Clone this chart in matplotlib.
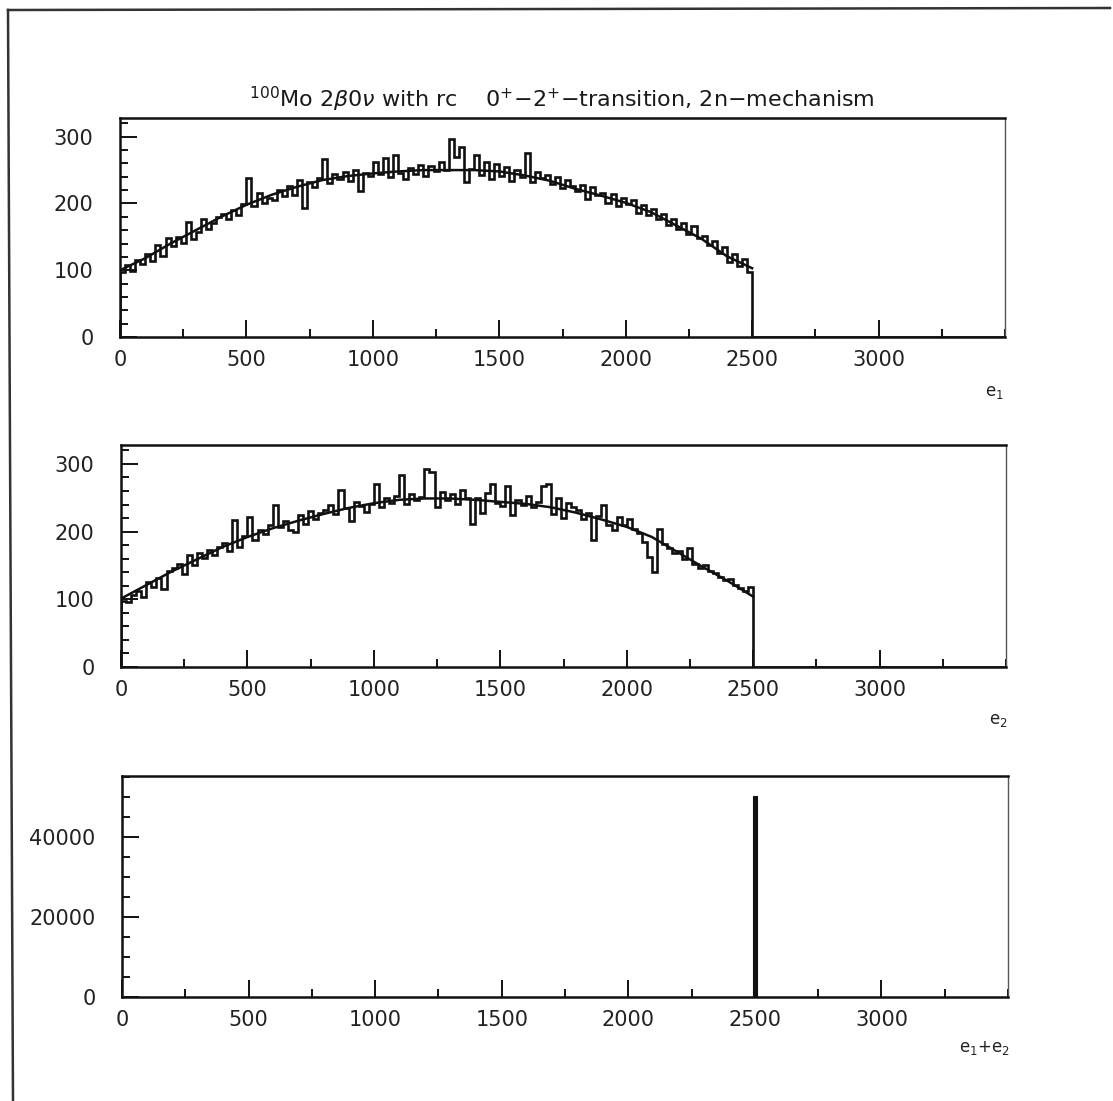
"""Energy spectra of the two electrons and of their sum, 100Mo 2b0v (0+ -> 2+)."""

import matplotlib.pyplot as plt
import numpy as np
from matplotlib.lines import Line2D
from matplotlib.ticker import MultipleLocator

BIN_WIDTH = 20      # keV
E_MAX = 3500        # keV, right edge of every panel

# counts per 20 keV bin, 0 .. 2500 keV
E1_COUNTS = [
    97, 108, 99, 115, 110,
    124, 114, 138, 121, 148,
    136, 150, 141, 172, 147,
    158, 176, 162, 171, 180,
    184, 177, 190, 183, 199,
    238, 196, 215, 201, 208,
    205, 220, 211, 226, 213,
    235, 193, 232, 224, 238,
    266, 230, 244, 236, 247,
    233, 250, 218, 246, 241,
    262, 244, 268, 239, 272,
    245, 236, 253, 244, 257,
    241, 256, 248, 262, 250,
    296, 270, 285, 232, 251,
    272, 243, 262, 236, 259,
    241, 255, 234, 250, 239,
    276, 232, 247, 238, 243,
    229, 240, 223, 235, 226,
    219, 228, 206, 225, 212,
    216, 201, 214, 196, 208,
    199, 205, 186, 197, 183,
    192, 176, 184, 168, 177,
    162, 171, 154, 166, 148,
    152, 138, 144, 126, 135,
    112, 125, 106, 117, 98,
]

E2_COUNTS = [
    98, 96, 106, 112, 104,
    126, 118, 132, 115, 142,
    146, 152, 138, 165, 150,
    168, 161, 173, 165, 178,
    183, 172, 217, 178, 193,
    221, 188, 203, 196, 210,
    239, 207, 216, 203, 199,
    224, 212, 230, 219, 228,
    232, 240, 226, 262, 235,
    216, 244, 238, 229, 241,
    271, 237, 249, 243, 252,
    283, 241, 256, 247, 251,
    293, 288, 236, 258, 247,
    255, 241, 262, 249, 212,
    250, 228, 257, 271, 243,
    238, 268, 224, 247, 240,
    252, 236, 244, 268, 271,
    226, 249, 220, 243, 236,
    232, 219, 228, 187, 223,
    239, 210, 203, 221, 210,
    219, 204, 198, 185, 162,
    140, 204, 181, 176, 168,
    171, 159, 176, 152, 146,
    150, 142, 139, 133, 128,
    130, 121, 117, 112, 118,
]

# fitted shape, sampled every 100 keV
FIT_E = [0, 100, 200, 300, 400, 500, 600, 700, 800, 900, 1000, 1100, 1200,
         1300, 1400, 1500, 1600, 1700, 1800, 1900, 2000, 2100, 2200, 2300,
         2400, 2500]
E1_FIT = [100, 118, 140, 160, 180, 198, 213, 225, 235, 241, 245, 248, 250,
          250, 250, 248, 242, 234, 222, 212, 201, 187, 167, 147, 121, 103]
E2_FIT = [101, 121, 141, 159, 177, 192, 205, 216, 226, 235, 242, 247, 249,
          249, 247, 244, 241, 236, 228, 218, 207, 192, 170, 148, 127, 104]

# e1 + e2: all events in a single bin at Q
SUM_PEAK_E = 2500
SUM_PEAK_COUNTS = 50300

X_TICKS = [0, 500, 1000, 1500, 2000, 2500, 3000]
TITLE = (r"$^{100}$Mo 2$\beta$0$\nu$ with rc    "
         r"0$^{+}$$-$2$^{+}$$-$transition, 2n$-$mechanism")

INK = "#111111"
W, H = 1113, 1101


def box(left, top, right, bottom):
    return [left / W, 1 - bottom / H, (right - left) / W, (bottom - top) / H]


def style_axes(ax, ymax, ymajor, yminor):
    ax.set_xlim(0, E_MAX)
    ax.set_ylim(0, ymax)
    ax.set_xticks(X_TICKS)
    ax.xaxis.set_minor_locator(MultipleLocator(250))
    ax.yaxis.set_major_locator(MultipleLocator(ymajor))
    ax.yaxis.set_minor_locator(MultipleLocator(yminor))
    ax.tick_params(which="both", direction="in", top=False, right=False,
                   color=INK, width=1.4)
    ax.tick_params(which="major", length=12, labelsize=15, labelcolor="#222222")
    ax.tick_params(which="minor", length=6)
    ax.tick_params(axis="x", which="major", pad=9)
    ax.tick_params(axis="y", which="major", pad=19)
    for side in ("left", "bottom", "top"):
        ax.spines[side].set_linewidth(1.8)
        ax.spines[side].set_color(INK)
    ax.spines["right"].set_linewidth(1.0)
    ax.spines["right"].set_color("#555555")


def draw_single(ax, counts, fit):
    edges = np.arange(0, E_MAX + BIN_WIDTH, BIN_WIDTH)
    values = np.zeros(len(edges) - 1)
    values[:len(counts)] = counts
    ax.stairs(values, edges, color=INK, lw=1.9)
    ax.plot(FIT_E, fit, color=INK, lw=1.8)
    style_axes(ax, 328, 100, 20)


def main():
    fig = plt.figure(figsize=(W / 100, H / 100), dpi=100)

    ax1 = fig.add_axes(box(120, 118, 1005, 337))
    draw_single(ax1, E1_COUNTS, E1_FIT)

    ax2 = fig.add_axes(box(121, 445, 1006, 667))
    draw_single(ax2, E2_COUNTS, E2_FIT)

    ax3 = fig.add_axes(box(122, 776, 1008, 997))
    ax3.bar(SUM_PEAK_E, SUM_PEAK_COUNTS, width=14, align="center",
            color=INK, edgecolor=INK, lw=0.8)
    style_axes(ax3, 55200, 20000, 5000)

    fig.text(562 / W, 1 - 99 / H, TITLE, ha="center", va="center",
             fontsize=16, color="#1a1a1a")
    fig.text(1004 / W, 1 - 392 / H, r"e$_1$", ha="right", va="center",
             fontsize=12, color="#222222")
    fig.text(1008 / W, 1 - 720 / H, r"e$_2$", ha="right", va="center",
             fontsize=12, color="#222222")
    fig.text(1010 / W, 1 - 1048 / H, r"e$_1$+e$_2$", ha="right", va="center",
             fontsize=12, color="#222222")

    # page frame
    frame = dict(transform=fig.transFigure, color="#333333", lw=1.8)
    fig.add_artist(Line2D([8 / W, 13 / W], [1 - 10 / H, 0], **frame))
    fig.add_artist(Line2D([8 / W, 1110 / W], [1 - 10 / H, 1 - 8 / H], **frame))

    fig.savefig("out.png", dpi=100)
    plt.close(fig)


if __name__ == "__main__":
    main()
